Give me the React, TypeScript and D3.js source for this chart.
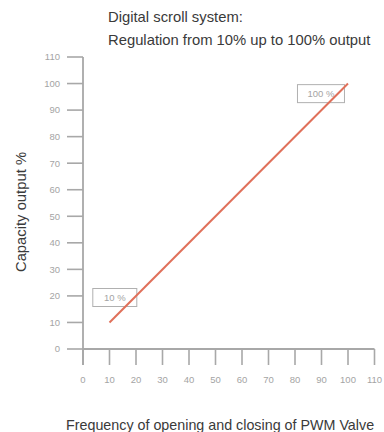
import React from "react";
import * as d3 from "d3";

const titleLines = ["Digital scroll system:", "Regulation from 10% up to 100% output"];
const yAxisLabel = "Capacity output %";
const xAxisLabel = "Frequency of opening and closing of PWM Valve";
const xTicks = [0, 10, 20, 30, 40, 50, 60, 70, 80, 90, 100, 110];
const yTicks = [0, 10, 20, 30, 40, 50, 60, 70, 80, 90, 100, 110];
const lineX = [10, 100];
const lineY = [10, 100];
const annotations = [
  { label: "10 %", x: 12, y: 19.4 },
  { label: "100 %", x: 89.8, y: 96.2 },
];

export default function App() {
  const W = 384, H = 432;
  const x = d3.scaleLinear().domain([0, 110]).range([83, 374.5]);
  const y = d3.scaleLinear().domain([0, 110]).range([349, 57]);
  const axisColor = "#a8a8a8";
  const tickText = "#a4a4a4";
  const pts: [number, number][] = lineX.map((v, i) => [v, lineY[i]]);
  const line = d3.line<[number, number]>().x(d => x(d[0])).y(d => y(d[1]));
  const font = "Liberation Sans, Arial, sans-serif";
  const big = 14.8;
  const small = 9.5;

  return (
    <svg width={W} height={H} style={{ position: "absolute", left: 0, top: 0, background: "#fff" }} fontFamily={font}>
      {/* titles */}
      <text x={108} y={22} fontSize={big} fill="#3a3a3a">{titleLines[0]}</text>
      <text x={108} y={45} fontSize={big} fill="#3a3a3a">{titleLines[1]}</text>

      {/* y axis */}
      <line x1={x(0)} x2={x(0)} y1={y(110)} y2={365} stroke={axisColor} strokeWidth={1.8} />
      {yTicks.map(t => (
        <g key={"y" + t}>
          <line x1={67} x2={x(0)} y1={y(t)} y2={y(t)} stroke={axisColor} strokeWidth={1.6} />
          <text x={60} y={y(t)} dy="0.35em" textAnchor="end" fontSize={small} fill={tickText}>{t}</text>
        </g>
      ))}

      {/* x axis */}
      <line x1={x(0)} x2={x(110)} y1={y(0)} y2={y(0)} stroke={axisColor} strokeWidth={1.8} />
      {xTicks.map(t => (
        <g key={"x" + t}>
          <line x1={x(t)} x2={x(t)} y1={y(0)} y2={365} stroke={axisColor} strokeWidth={1.6} />
          <text x={x(t)} y={380} dy="0.35em" textAnchor="middle" fontSize={small} fill={tickText}>{t}</text>
        </g>
      ))}

      {/* annotation boxes */}
      {annotations.map(a => {
        const w = a.label.length > 4 ? 47 : 44;
        const h = 18;
        return (
          <g key={a.label}>
            <rect x={x(a.x) - w / 2} y={y(a.y) - h / 2} width={w} height={h} fill="#fff" stroke="#b0b0b0" strokeWidth={1} />
            <text x={x(a.x)} y={y(a.y)} dy="0.35em" textAnchor="middle" fontSize={small} fill={tickText}>{a.label}</text>
          </g>
        );
      })}

      {/* main line */}
      <path d={line(pts) || ""} fill="none" stroke="#e0705a" strokeWidth={2} />

      {/* axis titles */}
      <text transform={`translate(26,212) rotate(-90)`} textAnchor="middle" fontSize={big} fill="#3a3a3a">{yAxisLabel}</text>
      <text x={66} y={430} fontSize={14.3} fill="#3a3a3a">{xAxisLabel}</text>
    </svg>
  );
}
